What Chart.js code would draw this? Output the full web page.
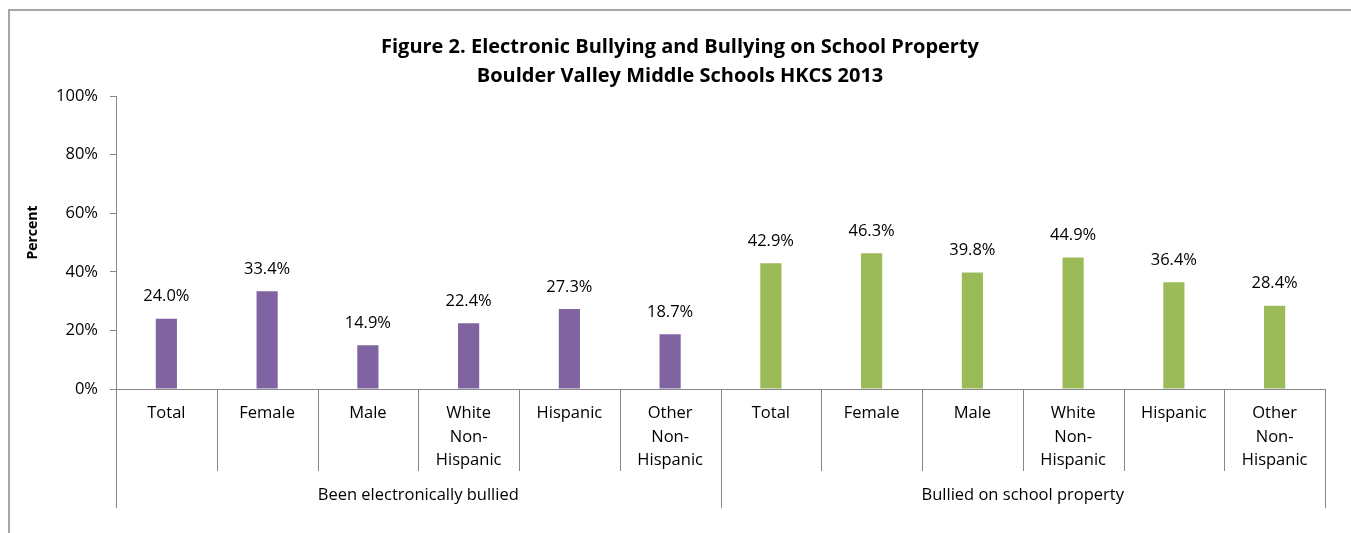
<!DOCTYPE html>
<html>
<head>
<meta charset="utf-8">
<script src="https://cdn.jsdelivr.net/npm/chart.js@4"></script>
<style>
  html, body { margin: 0; padding: 0; background: #fff; overflow: hidden; }
  #wrap { width: 1351px; height: 533px; position: relative; }
</style>
</head>
<body>
<div id="wrap"><canvas id="myChart" width="1351" height="533"></canvas></div>
<script>
let sub_labels = [
    'Total', 'Female', 'Male', ['White', 'Non-', 'Hispanic'], 'Hispanic', ['Other', 'Non-', 'Hispanic']
];
let group_labels = ['Been electronically bullied', 'Bullied on school property'];
let electronic_values = [24.0, 33.4, 14.9, 22.4, 27.3, 18.7];
let school_values = [42.9, 46.3, 39.8, 44.9, 36.4, 28.4];
let y_ticks = [0, 20, 40, 60, 80, 100];
let y_title = 'Percent';

let purple = '#8064A2';
let green = '#9BBB59';
let axis_gray = '#868686';
let font_family = '"Open Sans", "Liberation Sans", sans-serif';
let label_size = 16.5;

let all_labels = sub_labels.concat(sub_labels);
let all_values = electronic_values.concat(school_values);
let bar_colors = electronic_values.map(() => purple).concat(school_values.map(() => green));

// frame round the whole chart, like the excel chart area border
const framePlugin = {
    id: 'frame',
    beforeDraw(chart) {
        let ctx = chart.ctx;
        ctx.save();
        ctx.strokeStyle = '#a6a6a6';
        ctx.lineWidth = 2;
        ctx.beginPath();
        ctx.moveTo(9, 540);
        ctx.lineTo(9, 10);
        ctx.lineTo(1360, 10);
        ctx.stroke();
        // axis title, sits a little above the middle of the plot like in excel
        ctx.fillStyle = '#000';
        ctx.font = 'bold 14px ' + font_family;
        ctx.textAlign = 'center';
        ctx.textBaseline = 'middle';
        ctx.translate(33, chart.chartArea.top + (chart.chartArea.bottom - chart.chartArea.top) / 2 - 10);
        ctx.rotate(-Math.PI / 2);
        ctx.fillText(y_title, 0, 0);
        ctx.restore();
    }
};

// category separators, group separators and group names under the axis
const groupAxisPlugin = {
    id: 'groupAxis',
    afterDraw(chart) {
        let ctx = chart.ctx;
        let x = chart.scales.x;
        let area = chart.chartArea;
        let n = all_labels.length;
        let bounds = [];
        for (let i = 0; i <= n; i++) {
            if (i === 0) bounds.push(area.left);
            else if (i === n) bounds.push(area.right);
            else bounds.push((x.getPixelForValue(i - 1) + x.getPixelForValue(i)) / 2);
        }
        ctx.save();
        ctx.strokeStyle = axis_gray;
        ctx.lineWidth = 1;
        for (let i = 0; i <= n; i++) {
            let isGroup = (i % sub_labels.length === 0);
            let bx = Math.round(bounds[i]) + 0.5;
            ctx.beginPath();
            ctx.moveTo(bx, area.bottom);
            ctx.lineTo(bx, area.bottom + (isGroup ? 119 : 82));
            ctx.stroke();
        }
        ctx.fillStyle = '#000';
        ctx.font = label_size + 'px ' + font_family;
        ctx.textAlign = 'center';
        ctx.textBaseline = 'middle';
        for (let g = 0; g < group_labels.length; g++) {
            let l = bounds[g * sub_labels.length];
            let r = bounds[(g + 1) * sub_labels.length];
            ctx.fillText(group_labels[g], (l + r) / 2, area.bottom + 106);
        }
        ctx.restore();
    }
};

// value labels above each bar
const valueLabelPlugin = {
    id: 'valueLabels',
    afterDatasetsDraw(chart) {
        let ctx = chart.ctx;
        let meta = chart.getDatasetMeta(0);
        ctx.save();
        ctx.fillStyle = '#000';
        ctx.font = label_size + 'px ' + font_family;
        ctx.textAlign = 'center';
        ctx.textBaseline = 'middle';
        meta.data.forEach((bar, i) => {
            ctx.fillText(all_values[i].toFixed(1) + '%', bar.x, bar.y - 22);
        });
        ctx.restore();
    }
};

let config = {
    type: 'bar',
    data: {
        labels: all_labels,
        datasets: [{
            data: all_values,
            backgroundColor: bar_colors,
            borderWidth: 0,
            categoryPercentage: 1,
            barPercentage: 0.21
        }]
    },
    options: {
        responsive: false,
        animation: false,
        layout: {
            padding: { left: 35, right: 26, top: 0, bottom: 0 }
        },
        plugins: {
            legend: { display: false },
            tooltip: { enabled: false },
            title: {
                display: true,
                text: ['Figure 2. Electronic Bullying and Bullying on School Property',
                       'Boulder Valley Middle Schools HKCS 2013'],
                color: '#000',
                font: { family: font_family, size: 20, weight: 'bold', lineHeight: 1.45 },
                padding: { top: 33, bottom: 5 }
            }
        },
        scales: {
            x: {
                grid: { display: false },
                border: { display: true, color: axis_gray, width: 1 },
                ticks: {
                    color: '#000',
                    autoSkip: false,
                    maxRotation: 0,
                    padding: 5,
                    font: { family: font_family, size: label_size, lineHeight: 1.42 }
                },
                afterFit(scale) { scale.height = 144; }
            },
            y: {
                min: 0,
                max: 100,
                afterBuildTicks(scale) {
                    scale.ticks = y_ticks.map(v => ({ value: v }));
                },
                grid: {
                    drawOnChartArea: false,
                    tickLength: 6,
                    color: axis_gray
                },
                border: { display: true, color: axis_gray, width: 1 },
                ticks: {
                    color: '#000',
                    padding: 12,
                    font: { family: font_family, size: label_size },
                    callback: v => v + '%'
                },
                afterFit(scale) { scale.width = 81; }
            }
        }
    },
    plugins: [framePlugin, groupAxisPlugin, valueLabelPlugin]
};

let myChart = new Chart(document.getElementById('myChart'), config);
</script>
</body>
</html>
